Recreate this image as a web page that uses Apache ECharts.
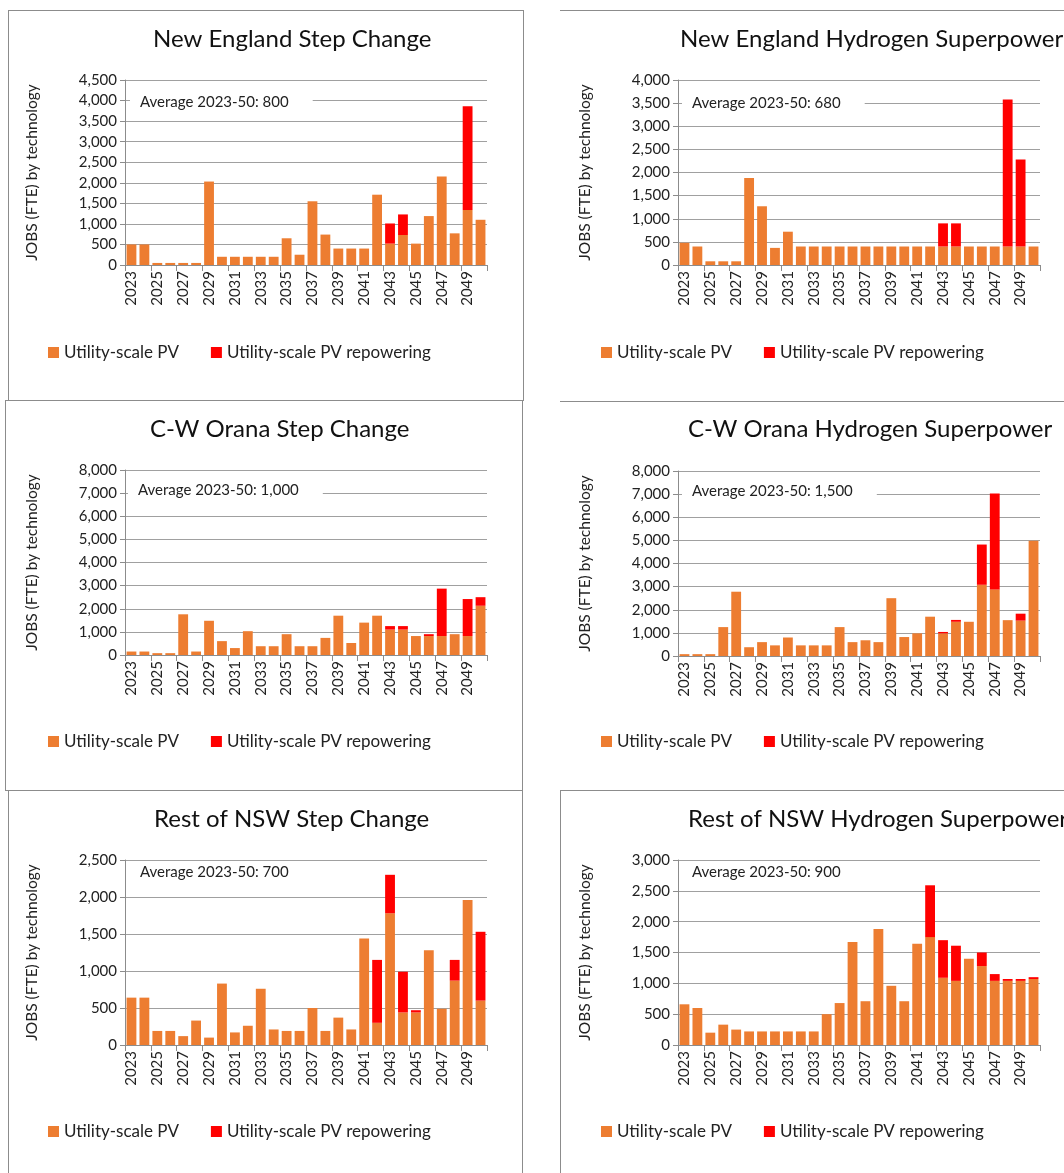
<!DOCTYPE html>
<html>
<head>
<meta charset="utf-8">
<script src="https://cdn.jsdelivr.net/npm/echarts@6/dist/echarts.min.js"></script>
<style>
    html, body { margin: 0; padding: 0; background: #fff; }
    body { width: 1064px; height: 1173px; overflow: hidden; position: relative; }
    .panel { position: absolute; box-sizing: border-box; }
    .panel .chart { position: absolute; left: 0; top: 0; width: 100%; height: 100%; }
</style>
</head>
<body>
<div class="panel" id="p1" style="left:8px;top:10px;width:516px;height:391px;border:1px solid #8c8c8c;"><div class="chart" id="c1"></div></div>
<div class="panel" id="p2" style="left:560px;top:10px;width:540px;height:391px;border-top:1px solid #8c8c8c;"><div class="chart" id="c2"></div></div>
<div class="panel" id="p3" style="left:5px;top:400px;width:518px;height:391px;border:1px solid #8c8c8c;"><div class="chart" id="c3"></div></div>
<div class="panel" id="p4" style="left:560px;top:401px;width:540px;height:391px;border-top:1px solid #8c8c8c;"><div class="chart" id="c4"></div></div>
<div class="panel" id="p5" style="left:8px;top:790px;width:515px;height:400px;border:1px solid #8c8c8c;"><div class="chart" id="c5"></div></div>
<div class="panel" id="p6" style="left:560px;top:790px;width:540px;height:400px;border-top:1px solid #8c8c8c;border-left:1px solid #8c8c8c;"><div class="chart" id="c6"></div></div>

<script>
// categories
var years = ["2023", "2024", "2025", "2026", "2027", "2028", "2029", "2030", "2031", "2032",
    "2033", "2034", "2035", "2036", "2037", "2038", "2039", "2040", "2041", "2042",
    "2043", "2044", "2045", "2046", "2047", "2048", "2049", "2050"];
var seriesNames = ["Utility-scale PV", "Utility-scale PV repowering"];

// New England - Step Change
var neStepPv = [500, 500, 50, 50, 50, 50, 2030, 200, 200, 200, 200, 200, 650, 250, 1550, 740, 400, 400, 400, 1710, 520, 730, 520, 1190, 2150, 770, 1340, 1100];
var neStepRep = [0, 0, 0, 0, 0, 0, 0, 0, 0, 0, 0, 0, 0, 0, 0, 0, 0, 0, 0, 0, 490, 500, 0, 0, 0, 0, 2520, 0];

// New England - Hydrogen Superpower
var neH2Pv = [480, 400, 80, 80, 80, 1880, 1270, 370, 720, 400, 400, 400, 400, 400, 400, 400, 400, 400, 400, 400, 400, 400, 400, 400, 400, 400, 400, 400];
var neH2Rep = [0, 0, 0, 0, 0, 0, 0, 0, 0, 0, 0, 0, 0, 0, 0, 0, 0, 0, 0, 0, 500, 500, 0, 0, 0, 3180, 1880, 0];

// C-W Orana - Step Change
var cwStepPv = [150, 150, 80, 80, 1760, 150, 1480, 600, 300, 1030, 380, 380, 900, 380, 380, 740, 1700, 520, 1400, 1700, 1100, 1100, 820, 820, 820, 900, 820, 2130];
var cwStepRep = [0, 0, 0, 0, 0, 0, 0, 0, 0, 0, 0, 0, 0, 0, 0, 0, 0, 0, 0, 0, 150, 150, 0, 80, 2050, 0, 1600, 370];

// C-W Orana - Hydrogen Superpower
var cwH2Pv = [80, 80, 80, 1250, 2780, 380, 600, 460, 800, 460, 460, 460, 1250, 600, 680, 600, 2500, 820, 980, 1700, 980, 1480, 1480, 3080, 2880, 1550, 1530, 4980];
var cwH2Rep = [0, 0, 0, 0, 0, 0, 0, 0, 0, 0, 0, 0, 0, 0, 0, 0, 0, 0, 0, 0, 60, 80, 0, 1740, 4150, 0, 300, 0];

// Rest of NSW - Step Change
var rnStepPv = [640, 640, 190, 190, 120, 330, 100, 830, 170, 260, 760, 210, 190, 190, 500, 190, 370, 210, 1440, 300, 1780, 440, 440, 1280, 490, 870, 1960, 600];
var rnStepRep = [0, 0, 0, 0, 0, 0, 0, 0, 0, 0, 0, 0, 0, 0, 0, 0, 0, 0, 0, 850, 520, 550, 30, 0, 0, 280, 0, 930];

// Rest of NSW - Hydrogen Superpower
var rnH2Pv = [660, 600, 200, 330, 250, 220, 220, 220, 220, 220, 220, 500, 680, 1670, 710, 1880, 960, 710, 1640, 1750, 1090, 1040, 1400, 1280, 1040, 1040, 1040, 1070];
var rnH2Rep = [0, 0, 0, 0, 0, 0, 0, 0, 0, 0, 0, 0, 0, 0, 0, 0, 0, 0, 0, 840, 610, 570, 0, 220, 110, 30, 30, 30];

var FONT = "Lato, 'Liberation Sans', sans-serif";

function fmt(v) {
    return Number(v).toLocaleString("en-US");
}

function makePanel(id, cfg) {
    var chart = echarts.init(document.getElementById(id));
    chart.setOption({
        animation: false,
        color: ["#ED7D31", "#FF0000"],
        textStyle: { fontFamily: FONT },
        title: [
            {
                text: cfg.title,
                left: cfg.titleLeft,
                top: cfg.titleTop,
                padding: 0,
                textStyle: { fontSize: 24, fontWeight: "normal", color: "#111", fontFamily: FONT },
            },
            {
                text: cfg.avg,
                left: cfg.avgLeft,
                top: cfg.avgTop,
                z: 10,
                backgroundColor: "#fff",
                padding: [2, 24, 2, 10],
                textStyle: { fontSize: 15, fontWeight: "normal", color: "#222", fontFamily: FONT },
            },
        ],
        legend: {
            left: cfg.legendLeft,
            top: cfg.legendTop,
            itemWidth: 11,
            itemHeight: 11,
            itemGap: 32,
            icon: "rect",
            textStyle: { fontSize: 17, color: "#222", fontFamily: FONT },
            data: seriesNames,
        },
        grid: {
            left: cfg.gridLeft,
            top: 69,
            width: 362,
            height: 185,
        },
        xAxis: {
            type: "category",
            data: years,
            axisLine: { lineStyle: { color: "#8c8c8c" } },
            axisTick: { show: true, length: 6, lineStyle: { color: "#8c8c8c" } },
            axisLabel: {
                rotate: 90,
                interval: 1,
                fontSize: 15,
                color: "#222",
                margin: 6,
            },
        },
        yAxis: {
            type: "value",
            min: 0,
            max: cfg.max,
            interval: cfg.step,
            name: "JOBS (FTE) by technology",
            nameLocation: "middle",
            nameGap: 85,
            nameTextStyle: { fontSize: 15.5, color: "#222" },
            axisLine: { show: true, lineStyle: { color: "#8c8c8c" } },
            axisTick: { show: true, length: 5, lineStyle: { color: "#8c8c8c" } },
            axisLabel: { fontSize: 15, color: "#222", margin: 8, formatter: fmt },
            splitLine: { lineStyle: { color: "#a0a0a0", width: 1 } },
        },
        series: [
            {
                name: seriesNames[0],
                type: "bar",
                stack: "jobs",
                barWidth: "76%",
                data: cfg.pv,
            },
            {
                name: seriesNames[1],
                type: "bar",
                stack: "jobs",
                barWidth: "76%",
                data: cfg.rep,
            },
        ],
    });
    return chart;
}

makePanel("c1", {
    title: "New England Step Change", titleLeft: 144, titleTop: 16,
    avg: "Average 2023-50: 800", avgLeft: 121, avgTop: 82,
    legendLeft: 34, legendTop: 328, gridLeft: 116,
    max: 4500, step: 500, pv: neStepPv, rep: neStepRep,
});
makePanel("c2", {
    title: "New England Hydrogen Superpower", titleLeft: 120, titleTop: 16,
    avg: "Average 2023-50: 680", avgLeft: 122, avgTop: 83,
    legendLeft: 36, legendTop: 328, gridLeft: 118,
    max: 4000, step: 500, pv: neH2Pv, rep: neH2Rep,
});
makePanel("c3", {
    title: "C-W Orana Step Change", titleLeft: 144, titleTop: 16,
    avg: "Average 2023-50: 1,000", avgLeft: 122, avgTop: 80,
    legendLeft: 37, legendTop: 327, gridLeft: 119,
    max: 8000, step: 1000, pv: cwStepPv, rep: cwStepRep,
});
makePanel("c4", {
    title: "C-W Orana Hydrogen Superpower", titleLeft: 128, titleTop: 15,
    avg: "Average 2023-50: 1,500", avgLeft: 122, avgTop: 80,
    legendLeft: 36, legendTop: 326, gridLeft: 118,
    max: 8000, step: 1000, pv: cwH2Pv, rep: cwH2Rep,
});
makePanel("c5", {
    title: "Rest of NSW Step Change", titleLeft: 145, titleTop: 16,
    avg: "Average 2023-50: 700", avgLeft: 121, avgTop: 72,
    legendLeft: 34, legendTop: 327, gridLeft: 116,
    max: 2500, step: 500, pv: rnStepPv, rep: rnStepRep,
});
makePanel("c6", {
    title: "Rest of NSW Hydrogen Superpower", titleLeft: 127, titleTop: 16,
    avg: "Average 2023-50: 900", avgLeft: 121, avgTop: 72,
    legendLeft: 35, legendTop: 327, gridLeft: 117,
    max: 3000, step: 500, pv: rnH2Pv, rep: rnH2Rep,
});
</script>
</body>
</html>
